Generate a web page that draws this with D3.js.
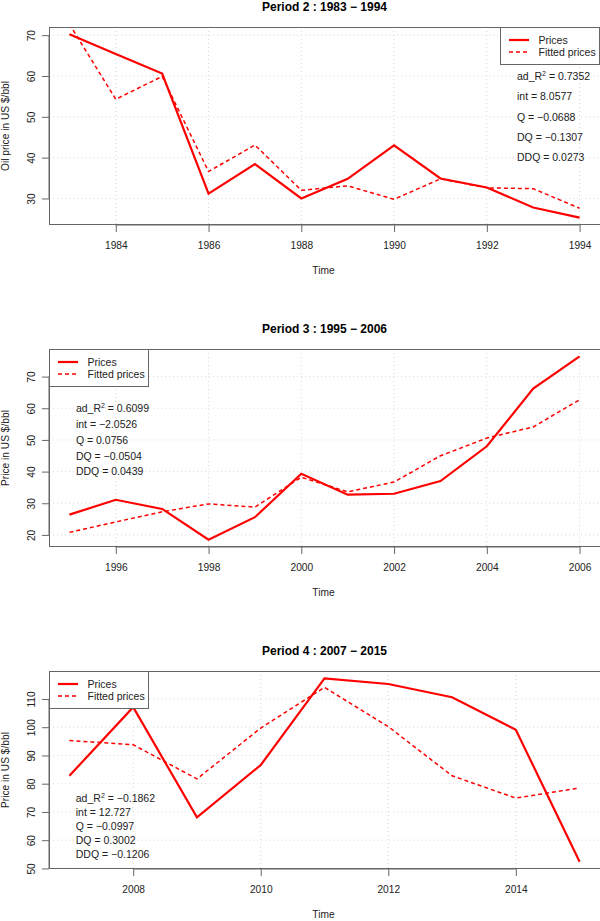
<!DOCTYPE html>
<html>
<head>
<meta charset="utf-8">
<script src="https://cdn.jsdelivr.net/npm/d3@7"></script>
<style>
  html, body { margin: 0; padding: 0; background: #fff; }
  svg { display: block; font-family: "Liberation Sans", Arial, Helvetica, sans-serif; }
</style>
</head>
<body>
<svg id="chart" width="600" height="921"></svg>
<script>
// ---------------- DATA ----------------
const titles = ["Period 2 : 1983 \u2212 1994", "Period 3 : 1995 \u2212 2006", "Period 4 : 2007 \u2212 2015"];
const yLabels = ["Oil price in US $/bbl", "Price in US $/bbl", "Price in US $/bbl"];

const years2 = [1983, 1984, 1985, 1986, 1987, 1988, 1989, 1990, 1991, 1992, 1993, 1994];
const prices2 = [70.2, 65.4, 60.6, 31.2, 38.4, 30.0, 34.8, 43.0, 34.9, 32.7, 27.8, 25.3];
const fitted2 = [72.7, 54.3, 59.9, 36.6, 43.1, 32.0, 33.1, 29.8, 34.8, 32.6, 32.4, 27.6];

const years3 = [1995, 1996, 1997, 1998, 1999, 2000, 2001, 2002, 2003, 2004, 2005, 2006];
const prices3 = [26.4, 31.1, 28.2, 18.5, 25.6, 39.3, 32.7, 33.0, 37.0, 48.0, 66.2, 76.4];
const fitted3 = [20.8, 24.1, 27.3, 29.8, 28.8, 38.2, 33.6, 36.7, 45.0, 50.6, 54.1, 62.7];

const years4 = [2007, 2008, 2009, 2010, 2011, 2012, 2013, 2014, 2015];
const prices4 = [82.8, 107.1, 68.1, 86.6, 117.3, 115.3, 110.6, 99.1, 52.4];
const fitted4 = [95.3, 93.8, 81.7, 99.7, 114.1, 100.2, 82.8, 74.9, 78.5];

const xTicks2 = [1984, 1986, 1988, 1990, 1992, 1994];
const xTicks3 = [1996, 1998, 2000, 2002, 2004, 2006];
const xTicks4 = [2008, 2010, 2012, 2014];
const yTicks2 = [30, 40, 50, 60, 70];
const yTicks3 = [20, 30, 40, 50, 60, 70];
const yTicks4 = [50, 60, 70, 80, 90, 100, 110];

// statistics shown in each panel: [ad_R2, int, Q, DQ, DDQ]
const stats2 = ["0.7352", "8.0577", "\u22120.0688", "\u22120.1307", "0.0273"];
const stats3 = ["0.6099", "\u22122.0526", "0.0756", "\u22120.0504", "0.0439"];
const stats4 = ["\u22120.1862", "12.727", "\u22120.0997", "0.3002", "\u22120.1206"];
const statNames = ["ad_R", "int", "Q", "DQ", "DDQ"];
const legendLabels = ["Prices", "Fitted prices"];

// ---------------- LAYOUT ----------------
const panels = [
  { years: years2, prices: prices2, fitted: fitted2, xt: xTicks2, yt: yTicks2, stats: stats2,
    top: 27, legend: "right", annX: 1992.65, annY: [60, 55, 50, 45, 40] },
  { years: years3, prices: prices3, fitted: fitted3, xt: xTicks3, yt: yTicks3, stats: stats3,
    top: 349, legend: "left", annX: 1995.14, annY: [60, 55, 50, 45, 40] },
  { years: years4, prices: prices4, fitted: fitted4, xt: xTicks4, yt: yTicks4, stats: stats4,
    top: 671, legend: "left", annX: 2007.1, annY: [75, 70, 65, 60, 55] }
];

const svg = d3.select("#chart");
const left = 49, right = 600, boxH = 198;
const axisColor = "#666";
const red = "#ff0000";

function padded(ext) {
  const d = (ext[1] - ext[0]) * 0.04;
  return [ext[0] - d, ext[1] + d];
}

panels.forEach((p, i) => {
  const top = p.top, bottom = top + boxH;
  const x = d3.scaleLinear().domain(padded(d3.extent(p.years))).range([left, right]);
  const y = d3.scaleLinear().domain(padded(d3.extent(p.prices))).range([bottom, top]);
  const g = svg.append("g");

  const clipId = "clip" + i;
  svg.append("clipPath").attr("id", clipId)
    .append("rect").attr("x", left).attr("y", top).attr("width", right - left).attr("height", boxH);

  // grid
  g.selectAll(".vg").data(p.xt).join("line")
    .attr("x1", d => x(d)).attr("x2", d => x(d)).attr("y1", top).attr("y2", bottom)
    .attr("stroke", "#d9d9d9").attr("stroke-width", 1).attr("stroke-dasharray", "1,3");
  g.selectAll(".hg").data(p.yt).join("line")
    .attr("x1", left).attr("x2", right).attr("y1", d => y(d)).attr("y2", d => y(d))
    .attr("stroke", "#d9d9d9").attr("stroke-width", 1).attr("stroke-dasharray", "1,3");

  // x axis
  const xAxis = d3.axisBottom(x).tickValues(p.xt).tickFormat(d3.format("d")).tickSize(7).tickSizeOuter(0);
  const xa = g.append("g").attr("transform", `translate(0,${bottom})`).call(xAxis);
  xa.select(".domain").attr("d", `M${x(p.xt[0])},0H${x(p.xt[p.xt.length - 1])}`).attr("stroke", axisColor);
  xa.selectAll(".tick line").attr("stroke", axisColor);
  xa.selectAll(".tick text").attr("y", 24).attr("dy", null).attr("font-size", 10.2).attr("fill", "#222")
    .attr("font-family", "Liberation Sans, Arial, sans-serif");

  // y axis
  const yAxis = d3.axisLeft(y).tickValues(p.yt).tickFormat(d3.format("d")).tickSize(7).tickSizeOuter(0);
  const ya = g.append("g").attr("transform", `translate(${left},0)`).call(yAxis);
  ya.select(".domain").attr("d", `M0,${y(p.yt[0])}V${y(p.yt[p.yt.length - 1])}`).attr("stroke", axisColor);
  ya.selectAll(".tick line").attr("stroke", axisColor);
  ya.selectAll(".tick text")
    .attr("x", null).attr("dy", null)
    .attr("transform", "translate(-14,0) rotate(-90)")
    .attr("text-anchor", "middle").attr("font-size", 10.2).attr("fill", "#222")
    .attr("font-family", "Liberation Sans, Arial, sans-serif");

  // box
  g.append("rect").attr("x", left + 0.5).attr("y", top + 0.5)
    .attr("width", right - left).attr("height", boxH - 1)
    .attr("fill", "none").attr("stroke", axisColor).attr("stroke-width", 1);

  // lines
  const line = (vals) => d3.line().x((d, k) => x(p.years[k])).y(d => y(d))(vals);
  const lg = g.append("g").attr("clip-path", `url(#${clipId})`);
  lg.append("path").attr("d", line(p.fitted)).attr("fill", "none")
    .attr("stroke", red).attr("stroke-width", 1.5).attr("stroke-dasharray", "4,3");
  lg.append("path").attr("d", line(p.prices)).attr("fill", "none")
    .attr("stroke", red).attr("stroke-width", 2.2);

  // title
  g.append("text").attr("x", (left + right) / 2).attr("y", top - 16.5)
    .attr("text-anchor", "middle").attr("font-weight", "bold").attr("font-size", 12)
    .attr("fill", "#000").text(titles[i]);
  // x label
  g.append("text").attr("x", (left + right) / 2 - 1).attr("y", bottom + 49)
    .attr("text-anchor", "middle").attr("font-size", 10.2).attr("fill", "#222").text("Time");
  // y label
  g.append("text").attr("transform", `translate(9,${(top + bottom) / 2}) rotate(-90)`)
    .attr("text-anchor", "middle").attr("font-size", 10.2).attr("fill", "#222").text(yLabels[i]);

  // legend
  const lw = 100, lh = 38;
  const lx = p.legend === "right" ? right - lw : left;
  const leg = g.append("g").attr("transform", `translate(${lx},${top})`);
  leg.append("rect").attr("x", 0.5).attr("y", 0.5).attr("width", lw - 1).attr("height", lh - 1)
    .attr("fill", "#fff").attr("stroke", axisColor);
  legendLabels.forEach((lab, k) => {
    const ly = 13 + k * 12;
    leg.append("line").attr("x1", 9).attr("x2", 29).attr("y1", ly).attr("y2", ly)
      .attr("stroke", red).attr("stroke-width", k === 0 ? 2.2 : 1.5)
      .attr("stroke-dasharray", k === 0 ? null : "4,3");
    leg.append("text").attr("x", 38.5).attr("y", ly + 3.8).attr("font-size", 10.5)
      .attr("fill", "#222").text(lab);
  });

  // annotations
  statNames.forEach((nm, k) => {
    const t = g.append("text").attr("x", x(p.annX)).attr("y", y(p.annY[k]) + 3.8)
      .attr("font-size", 10.5).attr("fill", "#222");
    t.append("tspan").text(nm);
    if (k === 0) {
      t.append("tspan").attr("dy", -4).attr("font-size", 7).text("2");
      t.append("tspan").attr("dy", 4).text(" = " + p.stats[k]);
    } else {
      t.append("tspan").text(" = " + p.stats[k]);
    }
  });
});
</script>
</body>
</html>
